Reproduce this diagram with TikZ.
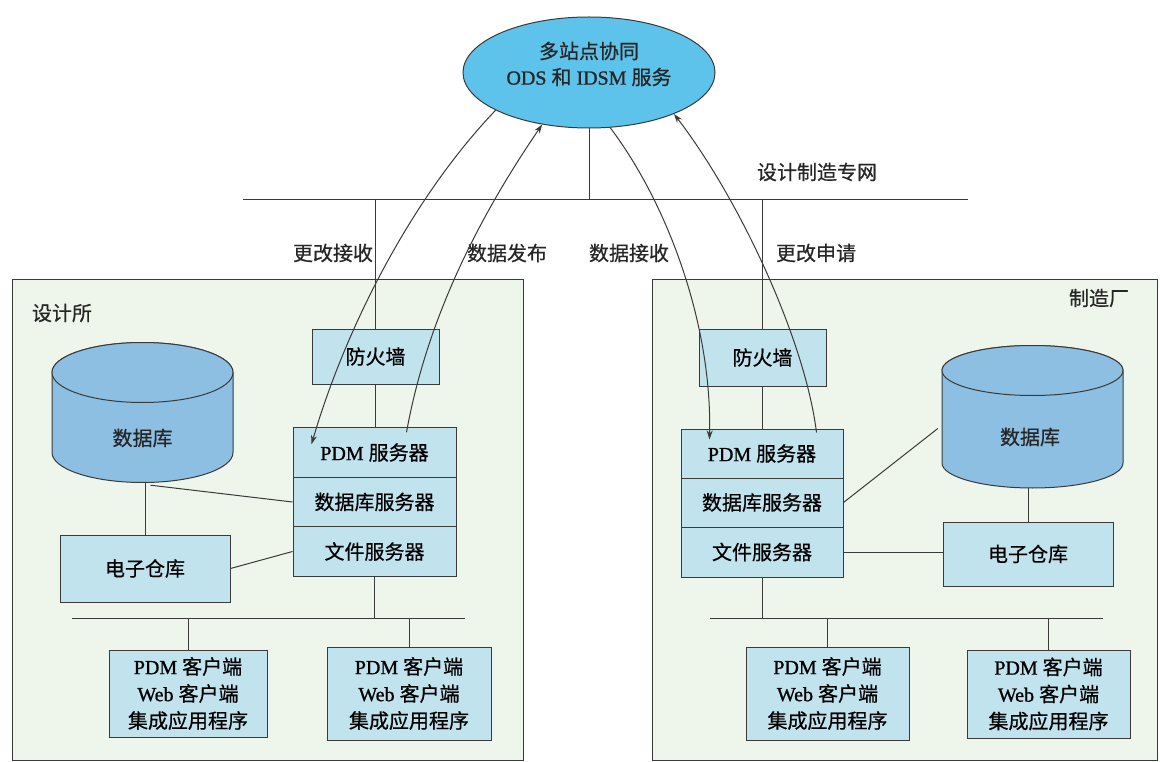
\documentclass[tikz,border=0pt]{standalone}
\usepackage{fontspec}
\setmainfont{Liberation Serif}[FakeBold=1]
\newfontfamily\cjkf{Noto Sans CJK SC}[FakeBold=0.6]
\usetikzlibrary{shapes.geometric,arrows.meta,calc}
\definecolor{boxblue}{HTML}{C0E3EE}
\definecolor{odsblue}{HTML}{5EC3EB}
\definecolor{dbblue}{HTML}{8DBFE3}
\definecolor{grpfill}{HTML}{EEF5EA}
\definecolor{linec}{HTML}{3A3A3A}
\newcommand\lat[1]{{\rmfamily #1}}
\newcommand\txt{\cjkf\fontsize{20}{27}\selectfont}
\begin{document}
\begin{tikzpicture}[x=1pt,y=-1pt,
  box/.style={draw=linec, fill=boxblue, line width=1pt, inner sep=0pt, font=\txt, align=center},
  grp/.style={draw=linec, fill=grpfill, line width=1pt, inner sep=0pt},
  lbl/.style={inner sep=1pt, font=\txt, text=black!85, align=center},
  conn/.style={draw=linec, line width=1pt},
  arr/.style={conn, -{Stealth[length=9pt,width=6pt]}},
  cyl/.style={draw=linec, fill=dbblue, line width=1pt}]
\useasboundingbox (0,0) rectangle (1160,762);
\fill[white] (0,0) rectangle (1160,762);

% group boxes
\node[grp, minimum width=511pt, minimum height=480pt] (grpL) at (267.5,520) {};
\node[grp, minimum width=505pt, minimum height=480pt] (grpR) at (904.5,520) {};
\node[lbl] (tL) at (62,313) {设计所};
\node[lbl] (tR) at (1099,298) {制造厂};

% ODS ellipse
\node[ellipse, draw=linec, fill=odsblue, line width=1pt, minimum width=252pt, minimum height=111pt, inner sep=0pt] (ods) at (589,72.5) {};
\node[lbl] (odsT) at (589,64) {多站点协同\\[-1pt]\lat{ODS }和\lat{ IDSM }服务};

% network
\coordinate (netL) at (243,200);
\coordinate (netR) at (968,200);
\draw[conn] (netL) -- (netR);
\node[lbl] (netT) at (817,172) {设计制造专网};

% link labels
\node[lbl] (l1) at (333,253) {更改接收};
\node[lbl] (l2) at (507,253) {数据发布};
\node[lbl] (l3) at (629,253) {数据接收};
\node[lbl] (l4) at (816,253) {更改申请};

% ---------- left site ----------
\node[box, minimum width=127pt, minimum height=55pt] (fwL) at (375.5,356.5) {防火墙};
\node[box, minimum width=163pt, minimum height=49.5pt] (pdmL) at (374.5,452.5) {\lat{PDM }服务器};
\node[box, minimum width=163pt, minimum height=49.5pt] (dbsL) at (374.5,502) {数据库服务器};
\node[box, minimum width=163pt, minimum height=49.5pt] (fsL) at (374.5,551.5) {文件服务器};
% database cylinder left
\path[cyl] (52,372.5) -- (52,452.5) arc[start angle=180, end angle=0, x radius=90.5, y radius=30] -- (233,372.5) arc[start angle=0, end angle=-180, x radius=90.5, y radius=30] -- cycle;
\draw[cyl] (142.5,372.5) ellipse[x radius=90.5, y radius=30];
\node[inner sep=0pt, minimum width=181pt, minimum height=141pt] (dbL) at (142.5,412.5) {};
\node[lbl] (dbLt) at (142.5,438) {数据库};
\node[box, minimum width=170pt, minimum height=67pt] (whL) at (145,568.5) {电子仓库};
\coordinate (lanLa) at (72,618);
\coordinate (lanLb) at (465,618);
\node[box, minimum width=158pt, minimum height=87pt] (cL1) at (188,693.5) {\lat{PDM }客户端\\\lat{Web }客户端\\集成应用程序};
\node[box, minimum width=164pt, minimum height=93pt] (cL2) at (409,693.5) {\lat{PDM }客户端\\\lat{Web }客户端\\集成应用程序};

\draw[conn] (fwL.north) -- (fwL.north |- netL);
\draw[conn] (fwL.south) -- (fwL.south |- pdmL.north);
\draw[conn] (fsL.south) -- (fsL.south |- lanLa);
\draw[conn] (lanLa) -- (lanLb);
\draw[conn] (cL1.north) -- (cL1.north |- lanLa);
\draw[conn] (cL2.north) -- (cL2.north |- lanLa);
\draw[conn] (whL.north) -- (whL.north |- dbL.south);
\draw[conn] ($(dbL.south)+(8,2)$) -- (dbsL.west);
\draw[conn] (whL.east) -- (fsL.west);

% ---------- right site ----------
\node[box, minimum width=127pt, minimum height=57pt] (fwR) at (762.5,357.5) {防火墙};
\node[box, minimum width=162pt, minimum height=49pt] (pdmR) at (762,453.5) {\lat{PDM }服务器};
\node[box, minimum width=162pt, minimum height=49pt] (dbsR) at (762,502.5) {数据库服务器};
\node[box, minimum width=162pt, minimum height=50pt] (fsR) at (762,552) {文件服务器};
\path[cyl] (942,370.5) -- (942,463) arc[start angle=180, end angle=0, x radius=90.5, y radius=25] -- (1123,370.5) arc[start angle=0, end angle=-180, x radius=90.5, y radius=25] -- cycle;
\draw[cyl] (1032.5,370.5) ellipse[x radius=90.5, y radius=25];
\node[inner sep=0pt, minimum width=181pt, minimum height=143pt] (dbR) at (1032.5,416.5) {};
\node[lbl] (dbRt) at (1030,437) {数据库};
\node[box, minimum width=170pt, minimum height=64pt] (whR) at (1028,554) {电子仓库};
\coordinate (lanRa) at (710,618);
\coordinate (lanRb) at (1103,618);
\node[box, minimum width=163pt, minimum height=93pt] (cR1) at (827.5,693.5) {\lat{PDM }客户端\\\lat{Web }客户端\\集成应用程序};
\node[box, minimum width=163pt, minimum height=88pt] (cR2) at (1048.5,694) {\lat{PDM }客户端\\\lat{Web }客户端\\集成应用程序};

\draw[conn] (fwR.north) -- (fwR.north |- netL);
\draw[conn] (fwR.south) -- (fwR.south |- pdmR.north);
\draw[conn] (fsR.south) -- (fsR.south |- lanRa);
\draw[conn] (lanRa) -- (lanRb);
\draw[conn] (cR1.north) -- (cR1.north |- lanRa);
\draw[conn] (cR2.north) -- (cR2.north |- lanRa);
\draw[conn] (whR.north) -- (whR.north |- dbR.south);
\draw[conn] ($(dbR.west)+(-4,12)$) -- (dbsR.east);
\draw[conn] (fsR.east) -- (fsR.east -| whR.west);

% ODS to network
\draw[conn] (ods.south) -- (ods.south |- netL);

% curved data flows
\draw[arr] (ods.202) .. controls (410,200) and (345,330) .. ($(pdmL.north west)+(19,17)$);
\draw[arr] ($(pdmL.north west)+(114,5)$) .. controls (425,330) and (470,230) .. (ods.228);
\draw[arr] (ods.291) .. controls (665,200) and (712,320) .. ($(pdmR.north west)+(29,11)$);
\draw[arr] ($(pdmR.north west)+(136,4)$) .. controls (805,340) and (740,200) .. (ods.334);
\end{tikzpicture}
\end{document}
